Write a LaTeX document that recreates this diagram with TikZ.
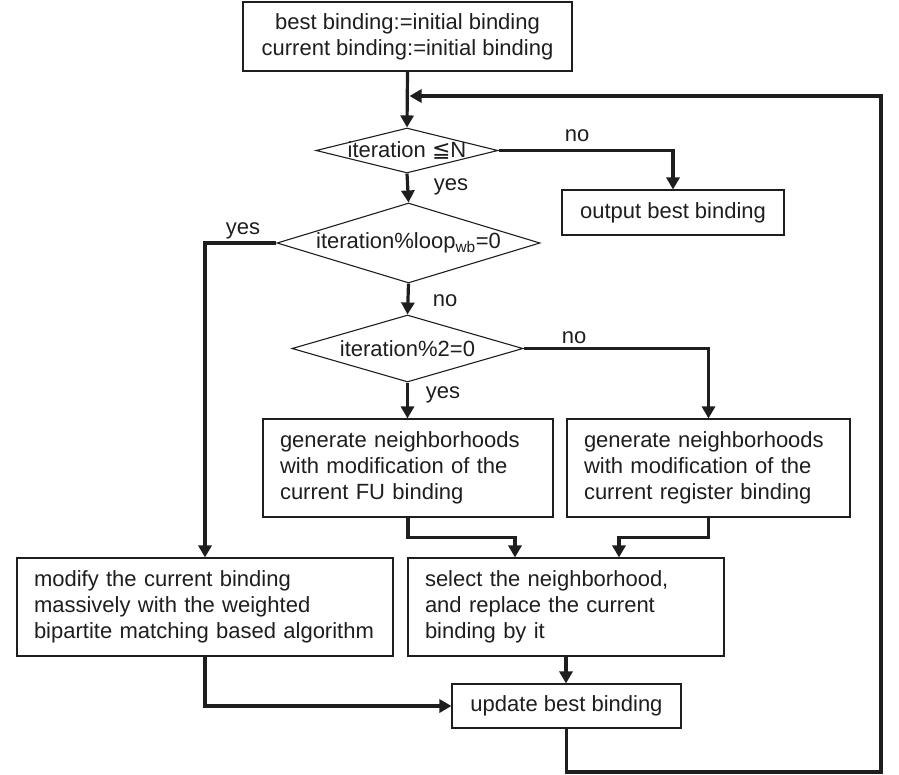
\documentclass[tikz,border=0pt]{standalone}
\usepackage{fontspec}
\setmainfont{Liberation Sans}
\newfontfamily\djv{DejaVu Sans}
\usetikzlibrary{shapes.geometric,arrows.meta}
\definecolor{ink}{HTML}{1E1E1E}
\begin{document}
\begin{tikzpicture}[x=1pt,y=-1pt,
  every node/.style={font=\fontsize{22}{26}\selectfont, text=ink},
  box/.style={draw=ink, line width=1.1pt, rectangle, inner ysep=0pt, inner xsep=0pt, minimum width=#1},
  tbox/.style={draw=ink, line width=1.1pt, rectangle, inner ysep=0pt, inner xsep=17pt, text width=#1, align=left, minimum height=98pt},
  dia/.style={draw=ink, line width=1.1pt, diamond, inner sep=0pt},
  lbl/.style={inner sep=0pt},
  flow/.style={draw=ink, line width=3.2pt, -{Triangle[width=13pt,length=12pt]}}
]
\useasboundingbox (0,0) rectangle (899,774);

\node[box=329pt, minimum height=69pt, align=center] (top) at (407.5,36.5) {best binding:=initial binding\\current binding:=initial binding};
\node[dia, minimum width=182pt, minimum height=45pt, label={[lbl]center:iteration {\djv ≦}N}] (d1) at (407,150.5) {};
\node[box=222pt, minimum height=45pt] (out) at (673,212.5) {output best binding};
\node[dia, minimum width=263pt, minimum height=80pt, label={[lbl]center:iteration\%loop\textsubscript{wb}=0}] (d2) at (408.5,243) {};
\node[dia, minimum width=231pt, minimum height=67pt, label={[lbl]center:iteration\%2=0}] (d3) at (407.5,348.5) {};
\node[tbox=256pt] (fu) at (408,468) {generate neighborhoods\\with modification of the\\current FU binding};
\node[tbox=249pt] (reg) at (708.5,468) {generate neighborhoods\\with modification of the\\current register binding};
\node[tbox=282pt] (sel) at (566,607) {select the neighborhood,\\and replace the current\\binding by it};
\node[tbox=342pt] (mod) at (205,607) {modify the current binding\\massively with the weighted\\bipartite matching based algorithm};
\node[box=229pt, minimum height=44pt] (upd) at (566.5,706) {update best binding};

\node[lbl] (l1) at (577,136) {no};
\node[lbl] (l2) at (451,187) {yes};
\node[lbl] (l3) at (243,231) {yes};
\node[lbl] (l4) at (445,301) {no};
\node[lbl] (l5) at (574,338) {no};
\node[lbl] (l6) at (443,395) {yes};

\coordinate (r1) at (566.5,772);
\coordinate (r2) at (881,772);
\coordinate (r3) at (881,96);
\coordinate (r4) at (409.5,96);

\draw[flow] (top.south) -- (d1.north);
\draw[flow] (d1.east) -| (out.north);
\draw[flow] (d1.south) -- (d2.north);
\draw[flow] (d2.west) -| (mod.north);
\draw[flow] (d2.south) -- (d3.north);
\draw[flow] (d3.east) -| (reg.north);
\draw[flow] (d3.south) -- (d3.south |- fu.north);
\draw[flow] (fu.south) -- ++(0,20) -| ([xshift=-51pt]sel.north);
\draw[flow] (reg.south) -- ++(0,20) -| ([xshift=53pt]sel.north);
\draw[flow] (sel.south) -- (sel.south |- upd.north);
\draw[flow] (mod.south) |- (upd.west);
\draw[flow] (upd.south) -- (r1) -- (r2) -- (r3) -- (r4);
\end{tikzpicture}
\end{document}
